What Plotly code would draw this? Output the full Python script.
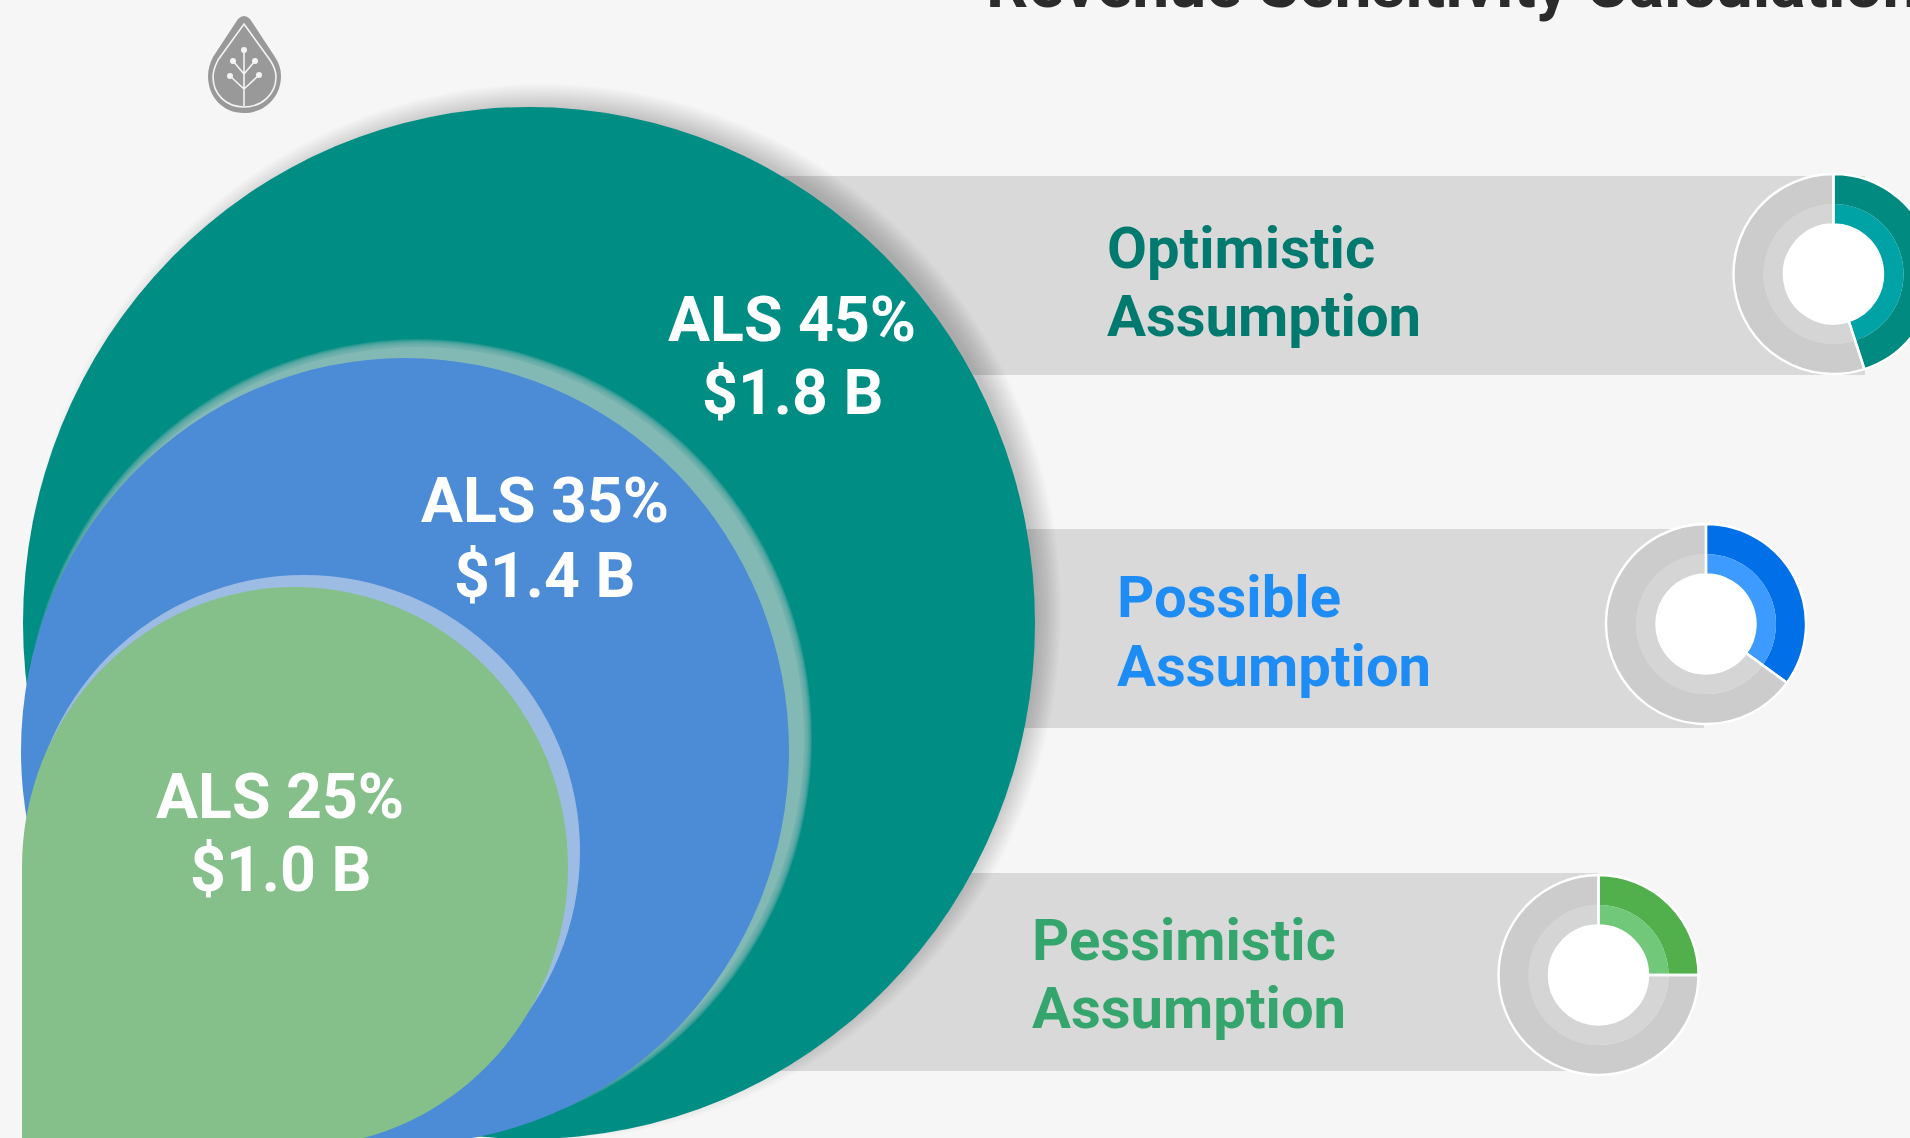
import plotly.graph_objects as go

# --- data ---
scenarios = ["Optimistic", "Possible", "Pessimistic"]
als_pct = [45, 35, 25]
revenue_b = [1.8, 1.4, 1.0]
title_text = "Revenue Sensitivity Calculation"

# --- styles ---
W, H = 1960, 1138
BG = "#f6f6f6"
BAND = "#d9d9d9"
TEXT_COLORS = ["#00796e", "#1e8cf5", "#34a56c"]
OUTER = ["#008a80", "#006fe8", "#52b04c"]
INNER = ["#00a3a5", "#3d9bff", "#70c878"]
GREY_O, GREY_I = "#cccccc", "#d5d5d5"
DONUTS = [(1833.5, 274), (1706, 624), (1598.5, 975)]
R_OUT, R_MID, R_HOLE = 100, 70, 49.5
BANDS = [(700, 176, 1865, 375), (900, 529, 1704, 728), (700, 873, 1597, 1071)]

fig = go.Figure()
shapes = []


def ell(cx, cy, rx, ry, color, opacity=1.0, layer="below"):
    shapes.append(dict(type="circle", xref="x", yref="y", x0=cx - rx, x1=cx + rx, y0=cy - ry, y1=cy + ry,
                       fillcolor=color, opacity=opacity, line=dict(width=0), layer=layer))


def rect(x0, y0, x1, y1, color):
    shapes.append(dict(type="rect", xref="x", yref="y", x0=x0, x1=x1, y0=y0, y1=y1,
                       fillcolor=color, line=dict(width=0), layer="below"))


def path(d, fill=None, line=None, width=0, layer="below"):
    s = dict(type="path", xref="x", yref="y", path=d, layer=layer, line=dict(width=width, color=line or "rgba(0,0,0,0)"))
    if fill:
        s["fillcolor"] = fill
    shapes.append(s)


for b in BANDS:
    rect(*b, BAND)

# teal circle + soft shadow offset to the upper right
for i in range(12, -14, -2):
    ell(543, 612, 506 + i, 516 + i, "#000000", 0.017)
ell(529, 623, 506, 516, "#008d84")

# blue circle + blurred halo
for i in range(8, 0, -1):
    ell(418, 738, 386 + i, 391 + i, "#83b9b5", 0.25)
ell(418, 738, 386, 391, "#83b9b5")
ell(405, 751, 384, 393, "#4c8bd6")

# green shape + halo
ell(304, 851, 276, 276, "#9dbce4")
ell(295, 867, 273, 280, "#85bf8a")
rect(22, 867, 295, 1138, "#85bf8a")

# logo
GREY = "#999999"
path("M238,19 Q244,13 250,19 L275,57 C279,63 281,69 281,76 C281,97 265,113 244,113 "
     "C223,113 208,97 208,76 C208,69 210,63 213,57 Z", fill=GREY)
path("M244,24 L270,60 C274,66 276,71 276,77 C276,94 262,107 244,107 C226,107 213,94 213,77 "
     "C213,71 215,66 218,60 Z", line="#f4f4f4", width=1.6)
path("M244,50 L244,106 M233,61 L244,74 M255,61 L244,74 M230,76 L244,89 M259,75 L244,89", line="#f4f4f4", width=1.6)
for (dx, dy) in [(244, 50), (233, 61), (255, 61), (230, 76), (259, 75)]:
    ell(dx, dy, 3, 3, "#f4f4f4")


def donut_dom(cx, cy, r):
    return dict(x=[(cx - r) / W, (cx + r) / W], y=[1 - (cy + r) / H, 1 - (cy - r) / H])


# donuts: two coloured rings, then a transparent pie on top that carries the white separators and rim
for (cx, cy), pct, co, ci in zip(DONUTS, als_pct, OUTER, INNER):
    for r, hole, col, grey in [(R_OUT, R_MID / R_OUT, co, GREY_O), (R_MID, R_HOLE / R_MID, ci, GREY_I)]:
        fig.add_trace(go.Pie(values=[pct, 100 - pct], sort=False, direction="clockwise", rotation=0,
                             hole=hole, textinfo="none", hoverinfo="skip", showlegend=False,
                             marker=dict(colors=[col, grey], line=dict(width=0)),
                             domain=donut_dom(cx, cy, r)))
    fig.add_trace(go.Pie(values=[pct, 100 - pct], sort=False, direction="clockwise", rotation=0,
                         hole=R_HOLE / R_OUT, textinfo="none", hoverinfo="skip", showlegend=False,
                         marker=dict(colors=["rgba(0,0,0,0)", "rgba(0,0,0,0)"], line=dict(color="white", width=2.4)),
                         domain=donut_dom(cx, cy, R_OUT)))
    ell(cx, cy, R_HOLE, R_HOLE, "white", layer="above")

# texts
ann = []


def text(x, y, s, size, color, anchor="center", yanchor="middle"):
    ann.append(dict(x=x, y=y, xref="x", yref="y", text=s, showarrow=False, xanchor=anchor, yanchor=yanchor,
                    font=dict(family="Roboto", size=size, color=color, weight="bold"), borderpad=0))


for (x, y1, y2), pct, rev in zip([(792, 319, 392.5), (544.5, 500.5, 575), (280, 796, 869)], als_pct, revenue_b):
    text(x, y1, f"ALS {pct}%", 62.6, "white")
    text(x, y2, f"${rev:.1f} B", 62.6, "white")

for (x, y1, y2), name, c in zip([(1105.5, 248, 316), (1115.5, 596.5, 666), (1031, 939.5, 1008)], scenarios, TEXT_COLORS):
    text(x, y1, name, 58, c, "left")
    text(x, y2, "Assumption", 58, c, "left")

text(985, 24, title_text, 66, "#2b2b2b", "left", "bottom")

fig.update_layout(
    width=W, height=H, margin=dict(l=0, r=0, t=0, b=0), autosize=False,
    paper_bgcolor=BG, plot_bgcolor=BG, shapes=shapes, annotations=ann, showlegend=False,
    xaxis=dict(range=[0, W], visible=False, domain=[0, 1], fixedrange=True),
    yaxis=dict(range=[H, 0], visible=False, domain=[0, 1], fixedrange=True),
)
# needs a cartesian trace so the axes exist
fig.add_trace(go.Scatter(x=[0], y=[0], mode="markers", marker=dict(opacity=0), hoverinfo="skip", showlegend=False))

fig.write_html("out.html", config=dict(displayModeBar=False),
               post_script="document.body.style.margin='0';document.body.style.overflow='hidden';"
                           "document.documentElement.style.overflow='hidden';")
